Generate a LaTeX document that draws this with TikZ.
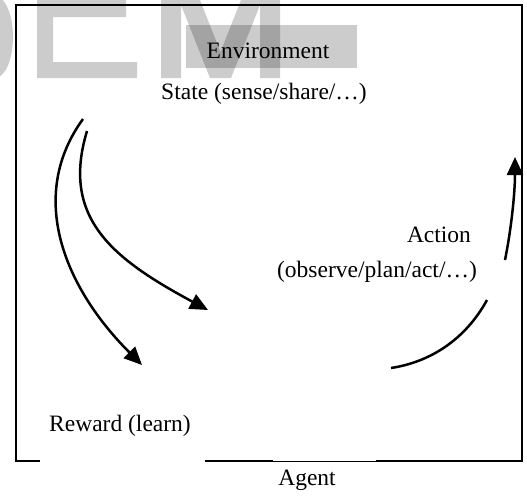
\documentclass[tikz,border=0pt]{standalone}
\usepackage{fontspec}
\setmainfont{Liberation Serif}
\usetikzlibrary{arrows.meta}
\begin{document}
\begin{tikzpicture}[x=1pt,y=-1pt,
  lbl/.style={font=\fontsize{23.5}{28}\selectfont, inner sep=0pt, anchor=base},
  wm/.style={fill=black, fill opacity=0.2, draw=none},
  border/.style={line width=2pt},
  thinborder/.style={line width=1pt},
  flow/.style={line width=2.5pt, -{Triangle[length=18pt,width=16pt]}},
  curve/.style={line width=2.5pt}]
\useasboundingbox (0,0) rectangle (527,499);
% watermark
\begin{scope}
\clip (0,0) rectangle (527,499);
\fill[wm] (-5,37) ellipse [x radius=18pt, y radius=41pt];
\fill[wm] (37,0) -- (126,0) -- (126,17) -- (53,17) -- (53,62) -- (137,62) -- (137,78) -- (37,78) -- cycle;
\fill[wm] (161,78) -- (161,0) -- (200,0) -- (220.5,52) -- (241,0) -- (280,0) -- (280,78) -- (260,78) -- (260,5) -- (231,78) -- (210,78) -- (181,5) -- (181,78) -- cycle;
\fill[wm] (186,25) rectangle (357,68);
\end{scope}
% border
\draw[border] (40,461) -- (16,461) -- (16,5) -- (522,5) -- (522,461) -- (376,461);
\draw[border] (205,461) -- (273,461);
\draw[thinborder] (273,461) -- (376,461);
% labels
\node[lbl] (env) at (268,58) {Environment};
\node[lbl] (state) at (264,99) {State (sense/share/…)};
\node[lbl] (action) at (439,242) {Action};
\node[lbl] (actsub) at (377,277) {(observe/plan/act/…)};
\node[lbl] (reward) at (120,431) {Reward (learn)};
\node[lbl] (agent) at (307,485) {Agent};
% connectors
\coordinate (s1) at (83,119); \coordinate (r1) at (142,365);
\draw[flow] (s1) .. controls (27,196) and (64,287) .. (r1);
\coordinate (s2) at (87,131); \coordinate (r2) at (208,310);
\draw[flow] (s2) .. controls (61,217) and (111,258) .. (r2);
\coordinate (a1) at (505,260); \coordinate (a2) at (515,157);
\draw[flow] (a1) .. controls (512,225) and (515,190) .. (a2);
\coordinate (b1) at (391,368); \coordinate (b2) at (487,300);
\draw[curve] (b1) .. controls (430,362) and (465,340) .. (b2);
\end{tikzpicture}
\end{document}
